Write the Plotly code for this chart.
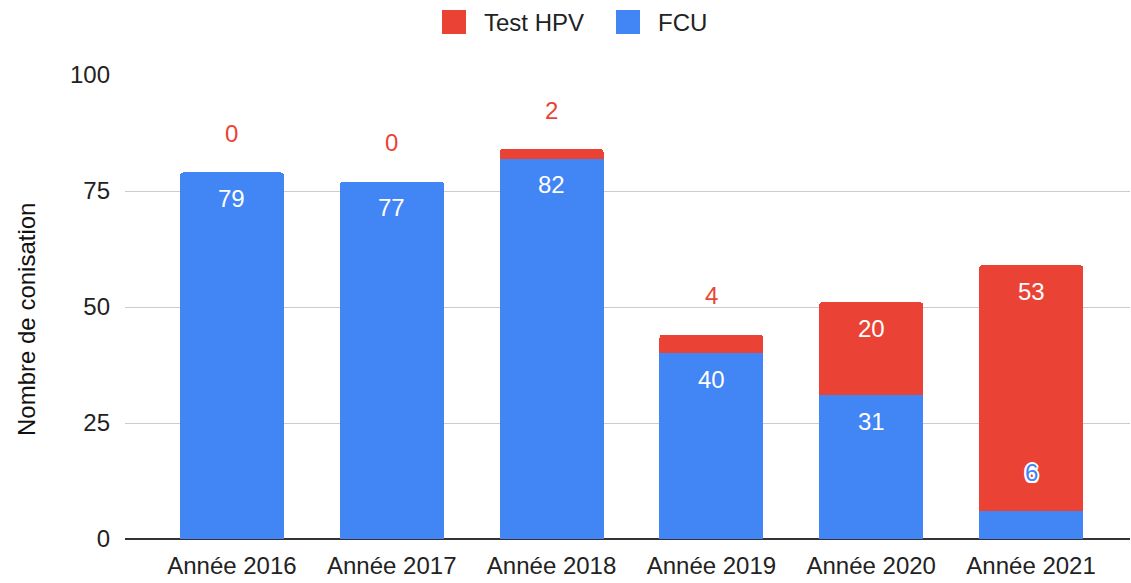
import plotly.graph_objects as go

categories = ["Année 2016", "Année 2017", "Année 2018", "Année 2019", "Année 2020", "Année 2021"]
fcu = [79, 77, 82, 40, 31, 6]
hpv = [0, 0, 2, 4, 20, 53]
y_ticks = [0, 25, 50, 75, 100]
y_title = "Nombre de conisation"

RED = "#EA4335"
BLUE = "#4285F4"
FONT = "Liberation Sans, Arial, sans-serif"
FS = 24

W, H = 1131, 583
M_L, M_R, M_T, M_B = 125, 1, 75, 44
Y_MAX = 100
PW = W - M_L - M_R
PH = H - M_T - M_B
px_per_unit = PH / Y_MAX


def px_x(p):
    return (p - M_L) / PW


def px_y(p):
    return (H - M_B - p) / PH


fig = go.Figure()
fig.add_trace(go.Bar(name="FCU", x=categories, y=fcu, marker=dict(color=BLUE, line=dict(width=0)), showlegend=False))
fig.add_trace(go.Bar(name="Test HPV", x=categories, y=hpv, marker=dict(color=RED, line=dict(width=0)), showlegend=False))

halo = "2px 0 0 white, -2px 0 0 white, 0 2px 0 white, 0 -2px 0 white, 1.5px 1.5px 0 white, -1.5px -1.5px 0 white, 1.5px -1.5px 0 white, -1.5px 1.5px 0 white"

annotations = []
for i, cat in enumerate(categories):
    base = 0
    for vals, col in ((fcu, BLUE), (hpv, RED)):
        v = vals[i]
        top = base + v
        if v * px_per_unit >= 35:
            annotations.append(dict(x=cat, y=top, yshift=-26, text=str(v), showarrow=False,
                                    yanchor="middle", font=dict(family=FONT, size=FS, color="white")))
        else:
            annotations.append(dict(x=cat, y=top, yshift=39, text=str(v), showarrow=False,
                                    yanchor="middle", font=dict(family=FONT, size=FS, color=col, shadow=halo)))
        base = top

# custom legend (top, centred)
shapes = []
legend_items = [("Test HPV", RED, 442), ("FCU", BLUE, 616)]
for name, col, x0 in legend_items:
    shapes.append(dict(type="rect", xref="paper", yref="paper",
                       x0=px_x(x0), x1=px_x(x0 + 24), y0=px_y(34), y1=px_y(10),
                       fillcolor=col, line=dict(width=0)))
    annotations.append(dict(xref="paper", yref="paper", x=px_x(x0 + 40), y=px_y(22), xanchor="left",
                            yanchor="middle", text=name, showarrow=False,
                            font=dict(family=FONT, size=FS, color="#222")))

# y-axis title
annotations.append(dict(xref="paper", yref="paper", x=px_x(26), y=px_y(320), xanchor="center",
                        yanchor="middle", text=y_title, textangle=-90, showarrow=False,
                        font=dict(family=FONT, size=FS, color="#111")))

fig.update_layout(
    width=W, height=H,
    margin=dict(l=M_L, r=M_R, t=M_T, b=M_B, pad=0, autoexpand=False),
    barmode="stack",
    bargap=0.35,
    barcornerradius=3,
    showlegend=False,
    plot_bgcolor="white", paper_bgcolor="white",
    font=dict(family=FONT, size=FS, color="#222"),
    annotations=annotations,
    shapes=shapes,
    xaxis=dict(range=[-0.669, 5.619], showgrid=False, showline=False, ticks="", automargin=False,
               tickfont=dict(family=FONT, size=FS, color="#222"), ticklabelstandoff=10),
    yaxis=dict(range=[0, Y_MAX], tickvals=y_ticks, showgrid=True, gridcolor="#cccccc", gridwidth=1,
               zeroline=True, zerolinecolor="#333333", zerolinewidth=2, showline=False, automargin=False,
               tickfont=dict(family=FONT, size=FS, color="#222"), ticklabelstandoff=14),
)

fig.write_html("out.html", config={"displayModeBar": False},
               post_script="document.body.style.margin='0';")
